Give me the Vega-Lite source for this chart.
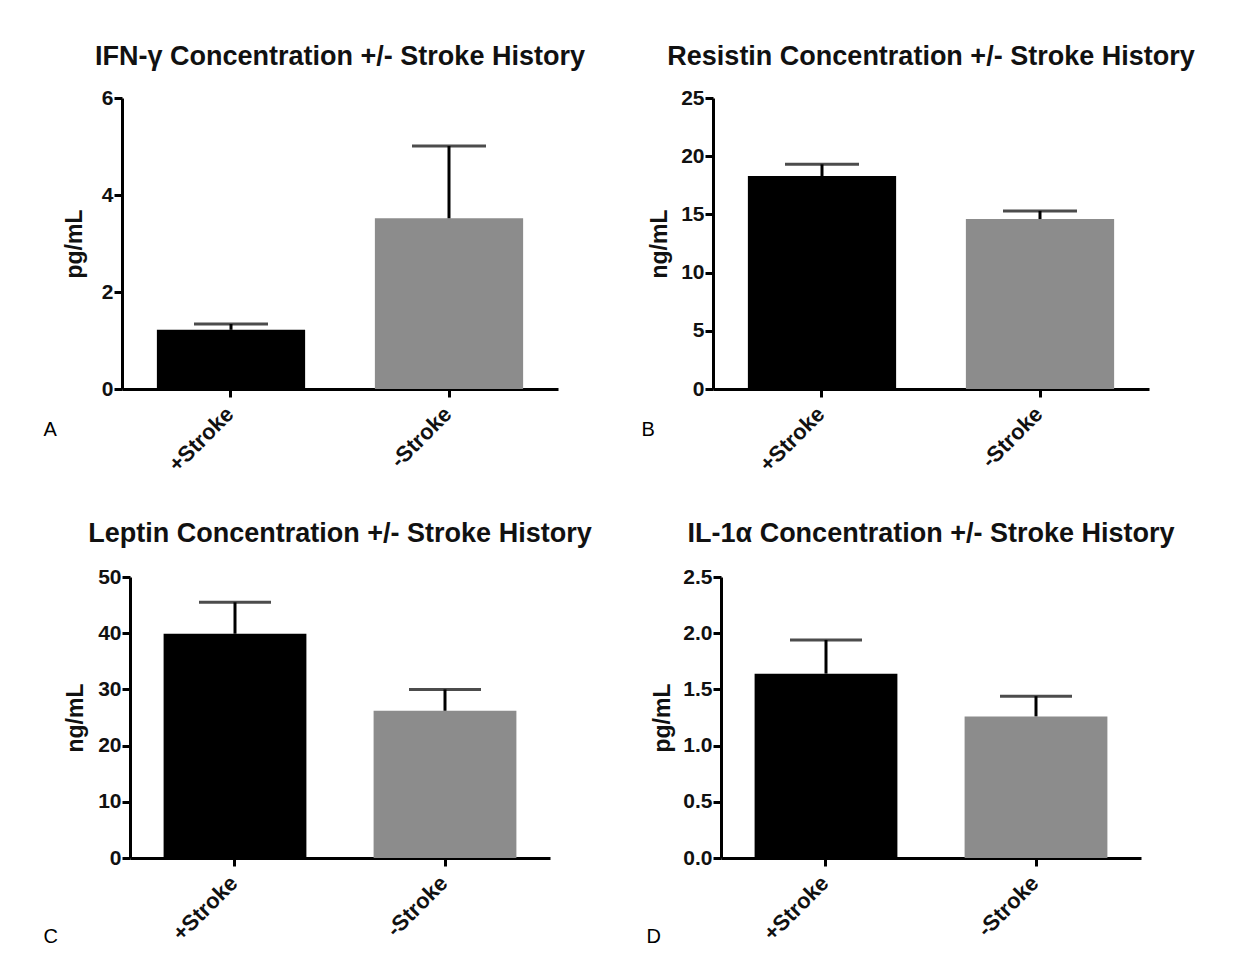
{
  "$schema": "https://vega.github.io/schema/vega-lite/v6.json",
  "background": "white",
  "autosize": {"type": "pad"},
  "padding": {"left": 43, "top": 43, "right": 5, "bottom": 5},
  "datasets": {
    "d": [
      {"panel": "A", "group": "+Stroke", "mean": 1.22, "upper": 1.34},
      {"panel": "A", "group": "-Stroke", "mean": 3.52, "upper": 5.01},
      {"panel": "B", "group": "+Stroke", "mean": 18.3, "upper": 19.3},
      {"panel": "B", "group": "-Stroke", "mean": 14.6, "upper": 15.3},
      {"panel": "C", "group": "+Stroke", "mean": 39.9, "upper": 45.5},
      {"panel": "C", "group": "-Stroke", "mean": 26.2, "upper": 30.0},
      {"panel": "D", "group": "+Stroke", "mean": 1.64, "upper": 1.94},
      {"panel": "D", "group": "-Stroke", "mean": 1.26, "upper": 1.44}
    ]
  },
  "spacing": 49,
  "hconcat": [
    {
      "spacing": 188,
      "bounds": "flush",
      "center": true,
      "vconcat": [
        {
          "width": 436, "height": 291,
          "title": {"text": "IFN-γ Concentration +/- Stroke History", "offset": 16},
          "data": {"name": "d"},
          "transform": [{"filter": "datum.panel === 'A'"}],
          "encoding": {
            "x": {"field": "group", "type": "nominal", "sort": ["+Stroke", "-Stroke"],
                  "scale": {"paddingInner": 0.32, "paddingOuter": 0.16},
                  "axis": {"title": "A", "titleX": -79, "titleY": 46}}
          },
          "layer": [
            {"mark": {"type": "bar"},
             "encoding": {
               "y": {"field": "mean", "type": "quantitative", "title": "pg/mL",
                     "scale": {"domain": [0, 6], "nice": false},
                     "axis": {"values": [0, 2, 4, 6], "titlePadding": 15}},
               "color": {"field": "group", "type": "nominal", "legend": null,
                         "scale": {"domain": ["+Stroke", "-Stroke"], "range": ["#000000", "#8c8c8c"]}}}},
            {"mark": {"type": "rule", "strokeWidth": 3, "color": "#000"},
             "encoding": {"y": {"field": "mean", "type": "quantitative", "title": "pg/mL"}, "y2": {"field": "upper"}}},
            {"mark": {"type": "tick", "size": 74, "thickness": 3, "color": "#000"},
             "encoding": {"y": {"field": "upper", "type": "quantitative", "title": "pg/mL"}}}
          ]
        },
        {
          "width": 420, "height": 281,
          "title": {"text": "Leptin Concentration +/- Stroke History", "offset": 18},
          "data": {"name": "d"},
          "transform": [{"filter": "datum.panel === 'C'"}],
          "encoding": {
            "x": {"field": "group", "type": "nominal", "sort": ["+Stroke", "-Stroke"],
                  "scale": {"paddingInner": 0.32, "paddingOuter": 0.16},
                  "axis": {"title": "C", "titleX": -87, "titleY": 84}}
          },
          "layer": [
            {"mark": {"type": "bar"},
             "encoding": {
               "y": {"field": "mean", "type": "quantitative", "title": "ng/mL",
                     "scale": {"domain": [0, 50], "nice": false},
                     "axis": {"values": [0, 10, 20, 30, 40, 50], "titlePadding": 10}},
               "color": {"field": "group", "type": "nominal", "legend": null,
                         "scale": {"domain": ["+Stroke", "-Stroke"], "range": ["#000000", "#8c8c8c"]}}}},
            {"mark": {"type": "rule", "strokeWidth": 3, "color": "#000"},
             "encoding": {"y": {"field": "mean", "type": "quantitative", "title": "ng/mL"}, "y2": {"field": "upper"}}},
            {"mark": {"type": "tick", "size": 72, "thickness": 3, "color": "#000"},
             "encoding": {"y": {"field": "upper", "type": "quantitative", "title": "ng/mL"}}}
          ]
        }
      ]
    },
    {
      "spacing": 188,
      "bounds": "flush",
      "center": true,
      "vconcat": [
        {
          "width": 436, "height": 291,
          "title": {"text": "Resistin Concentration +/- Stroke History", "offset": 16},
          "data": {"name": "d"},
          "transform": [{"filter": "datum.panel === 'B'"}],
          "encoding": {
            "x": {"field": "group", "type": "nominal", "sort": ["+Stroke", "-Stroke"],
                  "scale": {"paddingInner": 0.32, "paddingOuter": 0.16},
                  "axis": {"title": "B", "titleX": -72, "titleY": 46}}
          },
          "layer": [
            {"mark": {"type": "bar"},
             "encoding": {
               "y": {"field": "mean", "type": "quantitative", "title": "ng/mL",
                     "scale": {"domain": [0, 25], "nice": false},
                     "axis": {"values": [0, 5, 10, 15, 20, 25], "titlePadding": 9}},
               "color": {"field": "group", "type": "nominal", "legend": null,
                         "scale": {"domain": ["+Stroke", "-Stroke"], "range": ["#000000", "#8c8c8c"]}}}},
            {"mark": {"type": "rule", "strokeWidth": 3, "color": "#000"},
             "encoding": {"y": {"field": "mean", "type": "quantitative", "title": "ng/mL"}, "y2": {"field": "upper"}}},
            {"mark": {"type": "tick", "size": 74, "thickness": 3, "color": "#000"},
             "encoding": {"y": {"field": "upper", "type": "quantitative", "title": "ng/mL"}}}
          ]
        },
        {
          "width": 420, "height": 281,
          "title": {"text": "IL-1α Concentration +/- Stroke History", "offset": 18},
          "data": {"name": "d"},
          "transform": [{"filter": "datum.panel === 'D'"}],
          "encoding": {
            "x": {"field": "group", "type": "nominal", "sort": ["+Stroke", "-Stroke"],
                  "scale": {"paddingInner": 0.32, "paddingOuter": 0.16},
                  "axis": {"title": "D", "titleX": -75, "titleY": 84}}
          },
          "layer": [
            {"mark": {"type": "bar"},
             "encoding": {
               "y": {"field": "mean", "type": "quantitative", "title": "pg/mL",
                     "scale": {"domain": [0, 2.5], "nice": false},
                     "axis": {"values": [0, 0.5, 1, 1.5, 2, 2.5], "format": ".1f", "titlePadding": 8}},
               "color": {"field": "group", "type": "nominal", "legend": null,
                         "scale": {"domain": ["+Stroke", "-Stroke"], "range": ["#000000", "#8c8c8c"]}}}},
            {"mark": {"type": "rule", "strokeWidth": 3, "color": "#000"},
             "encoding": {"y": {"field": "mean", "type": "quantitative", "title": "pg/mL"}, "y2": {"field": "upper"}}},
            {"mark": {"type": "tick", "size": 72, "thickness": 3, "color": "#000"},
             "encoding": {"y": {"field": "upper", "type": "quantitative", "title": "pg/mL"}}}
          ]
        }
      ]
    }
  ],
  "config": {
    "font": "Liberation Sans",
    "view": {"stroke": null},
    "title": {"fontSize": 27, "fontWeight": "bold", "color": "#111", "anchor": "middle", "frame": "group", "baseline": "alphabetic"},
    "axis": {
      "domainColor": "#000", "domainWidth": 3, "tickColor": "#000", "tickWidth": 3,
      "labelColor": "#111", "labelFont": "Liberation Sans", "labelFontSize": 21, "labelFontWeight": "bold",
      "titleFont": "Liberation Sans", "titleFontSize": 23, "titleFontWeight": "bold", "titleColor": "#111",
      "grid": false
    },
    "axisX": {
      "labelAngle": -45, "labelAlign": "right", "labelBaseline": "top", "tickSize": 8, "labelPadding": 6, "labelOffset": -8, "labelFontSize": 22,
      "titleFontWeight": "normal", "titleFontSize": 20, "titleAlign": "left", "titleBaseline": "alphabetic", "titleColor": "#000"
    },
    "axisY": {"tickSize": 8, "labelPadding": 1}
  }
}
